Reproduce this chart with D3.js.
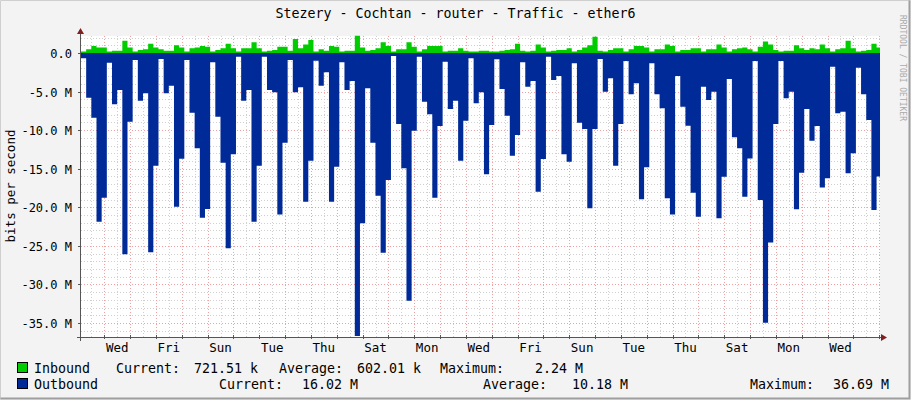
<!DOCTYPE html>
<html><head><meta charset="utf-8">
<script src="https://cdn.jsdelivr.net/npm/d3@7"></script>
<style>body{margin:0;background:#fff}svg text{font-family:"DejaVu Sans Mono",monospace}</style>
</head><body><svg id="c" width="911" height="400"></svg>
<script>
const title = "Stezery - Cochtan - router - Traffic - ether6";
const dayLabels = ["Wed","Fri","Sun","Tue","Thu","Sat","Mon","Wed","Fri","Sun","Tue","Thu","Sat","Mon","Wed"];
const yTicks = [0,-5,-10,-15,-20,-25,-30,-35];
// 5 samples per day (Mbit/s), outbound plotted negative
const outbound = [
0.69,5.79,8.38,21.87,18.76,1.25,6.65,4.80,26.1,8.9,0.91,6.18,5.23,25.84,14.61,0.78,5.23,4.24,19.92,13.7,
0.91,7.74,12.36,21.35,20.22,1.21,8.25,14.22,25.32,13.14,0.48,6.18,4.8,21.87,14.61,0.48,4.8,5.1,20.92,
11.62,0.91,5.1,4.45,19.27,13.96,0.99,4.24,2.51,19.27,14.74,1.21,4.8,3.63,36.69,22.08,4.58,11.62,18.5,25.89,16.46,
0.39,9.2,14.95,32.1,10.07,0.48,6.31,7.95,18.76,9.46,1.12,7.26,6.18,13.96,8.77,0.69,6.53,5.1,15.73,
9.33,0.82,4.67,8.12,13.31,10.63,1.21,4.36,3.63,17.98,13.74,0.48,3.5,2.98,13.14,14.09,1.34,9.03,9.85,20.14,9.85,
0.78,5.01,3.28,14.61,9.2,1.04,5.36,3.93,18.97,14.82,1.34,5.36,7.17,18.84,20.92,2.98,6.96,9.42,18.11,
21.22,4.36,6.09,5.01,21.43,16.03,3.37,10.93,12.36,18.63,13.66,1.04,19.06,34.96,24.55,9.2,1.04,5.88,5.01,20.27,15.51,
7.26,11.37,9.46,17.42,16.25,1.77,7.82,7.61,15.6,13.01,1.9,5.36,8.69,20.35,16.02];
const inbound = [
0.2,0.5,0.9,0.7,0.7,0.2,0.3,0.3,1.6,0.7,0.2,0.4,0.5,1.2,0.7,0.5,0.3,0.3,1.0,0.7,
0.2,0.6,0.7,0.9,0.8,0.2,0.4,0.6,1.2,0.6,0.2,0.6,0.6,1.4,0.6,0.2,0.3,0.4,0.8,
0.8,0.3,1.8,0.6,1.1,1.7,0.2,0.5,0.3,0.9,0.8,0.2,0.3,0.3,2.24,0.7,0.3,0.4,0.6,1.4,0.9,
0.2,0.5,0.5,1.4,0.8,0.2,0.5,0.9,0.9,0.9,0.2,0.3,0.3,0.6,0.3,0.2,0.2,0.3,0.3,
0.2,0.2,0.3,0.4,0.5,1.2,0.3,0.2,0.3,1.1,0.7,0.2,0.3,0.4,0.4,0.6,0.2,0.4,0.7,1.0,2.1,
0.3,0.2,0.4,0.6,0.6,0.2,0.5,0.9,0.9,0.7,0.2,0.5,0.5,1.1,0.9,0.2,0.4,0.4,0.6,
0.6,0.2,0.5,0.5,1.1,0.7,0.2,0.5,0.6,0.7,0.5,0.2,0.8,1.5,1.1,0.4,0.2,0.3,0.3,1.0,0.6,
0.4,0.6,0.5,1.1,0.6,0.2,0.5,0.6,1.6,0.6,0.2,0.3,0.4,1.2,0.72];
const legendNames = ["Inbound","Outbound"];
const legendColors = ["#00CC00","#002A97"];
const legendCur = ["721.51 k","16.02 M"];
const legendAvg = ["602.01 k","10.18 M"];
const legendMax = ["2.24 M","36.69 M"];

const svg = d3.select("#c");
svg.append("rect").attr("width",911).attr("height",400).attr("fill","#F3F3F3");
svg.append("path").attr("d","M0.5,399.5V0.5H910.5").attr("stroke","#CFCFCF").attr("fill","none");
svg.append("path").attr("d","M0.5,398.5H909.5V0.5").attr("stroke","#9E9E9E").attr("stroke-width",2).attr("fill","none");

const L=81, R=880, T=36, B=337;
const stepsPerDay = 5;
const x = d3.scaleLinear().domain([0, (R-L)/25.83*stepsPerDay]).range([L,R]);
const y = d3.scaleLinear().domain([-35,0]).range([323,53]);
svg.append("rect").attr("x",L).attr("y",T).attr("width",R-L).attr("height",B-T).attr("fill","#fff");

const g = svg.append("g");
d3.range(2,-37,-1).forEach(v=>{ const yy=Math.round(y(v))+0.5; if(yy<T||yy>B) return;
  g.append("line").attr("x1",L).attr("x2",R).attr("y1",yy).attr("y2",yy)
   .attr("stroke", v%5===0?"#F0A0A0":"#D0D0D0").attr("stroke-dasharray","1,2");});
const firstDay = 104.3;
for(let k=-1;k<70;k++){ const xx=Math.round(firstDay+k*12.915)+0.5; if(xx<=L||xx>=R) continue;
  g.append("line").attr("x1",xx).attr("x2",xx).attr("y1",T).attr("y2",B)
   .attr("stroke", k%2===0?"#F0A0A0":"#D0D0D0").attr("stroke-dasharray","1,2");}

const inArea = d3.area().curve(d3.curveStepAfter).x((d,i)=>x(i)).y0(y(0)).y1(d=>y(d));
const outArea = d3.area().curve(d3.curveStepAfter).x((d,i)=>x(i)).y0(y(0)).y1(d=>y(-d));
const ext = a => a.concat([a[a.length-1]]);
svg.append("defs").append("clipPath").attr("id","cp").append("rect").attr("x",L).attr("y",T-2).attr("width",R-L).attr("height",B-T+2);
const pg = svg.append("g").attr("clip-path","url(#cp)");
pg.append("path").datum(ext(inbound)).attr("d",inArea).attr("fill","#00CC00");
pg.append("path").datum(ext(outbound)).attr("d",outArea).attr("fill","#002A97");

svg.append("line").attr("x1",L-0.5).attr("x2",L-0.5).attr("y1",32).attr("y2",B+4).attr("stroke","#555");
svg.append("path").attr("d",`M${L-4},34L${L-0.5},28L${L+3},34Z`).attr("fill","#802020");
svg.append("line").attr("x1",L-4).attr("x2",R+2).attr("y1",B+0.5).attr("y2",B+0.5).attr("stroke","#555");
svg.append("path").attr("d",`M${R+1},${B-3}L${R+7},${B+0.5}L${R+1},${B+4}Z`).attr("fill","#802020");
yTicks.forEach(v=>{ const yy=Math.round(y(v))+0.5;
  svg.append("line").attr("x1",L-3).attr("x2",L).attr("y1",yy).attr("y2",yy).attr("stroke","#555");
  svg.append("text").attr("x",72).attr("y",yy+4).attr("text-anchor","end").attr("font-size",12).attr("fill","#000")
   .text(v===0?"0.0":v.toFixed(1)+" M");});
for(let k=-1;k<35;k++){ const xx=Math.round(firstDay+k*25.83)+0.5; if(xx<=L||xx>=R) continue;
  svg.append("line").attr("x1",xx).attr("x2",xx).attr("y1",B-2).attr("y2",B+2).attr("stroke","#555");}
dayLabels.forEach((t,i)=>{ const xx=firstDay+12.9+i*2*25.83;
  svg.append("text").attr("x",xx).attr("y",352).attr("text-anchor","middle").attr("font-size",12.5).text(t);});

svg.append("text").attr("x",455.5).attr("y",18).attr("text-anchor","middle").attr("font-size",13.3).text(title);
svg.append("text").attr("transform","translate(15,186) rotate(-90)").attr("text-anchor","middle").attr("font-size",12.5).text("bits per second");
svg.append("text").attr("transform","translate(900,68) rotate(90)").attr("text-anchor","middle").attr("font-size",8).attr("fill","#AAA").text("RRDTOOL / TOBI OETIKER");

const fs = 13.3;
const rowsX = [
  {cur:[116,258], avg:[279,421], max:[440,583]},
  {cur:[219,358], avg:[483,628], max:[750,889]}];
legendNames.forEach((nm,i)=>{ const yy=373+i*16, p=rowsX[i];
  svg.append("rect").attr("x",17.5).attr("y",yy-10.5).attr("width",10).attr("height",10).attr("fill",legendColors[i]).attr("stroke","#000");
  svg.append("text").attr("x",34).attr("y",yy).attr("font-size",fs).text(nm);
  svg.append("text").attr("x",p.cur[0]).attr("y",yy).attr("font-size",fs).text("Current:");
  svg.append("text").attr("x",p.cur[1]).attr("y",yy).attr("font-size",fs).attr("text-anchor","end").text(legendCur[i]);
  svg.append("text").attr("x",p.avg[0]).attr("y",yy).attr("font-size",fs).text("Average:");
  svg.append("text").attr("x",p.avg[1]).attr("y",yy).attr("font-size",fs).attr("text-anchor","end").text(legendAvg[i]);
  svg.append("text").attr("x",p.max[0]).attr("y",yy).attr("font-size",fs).text("Maximum:");
  svg.append("text").attr("x",p.max[1]).attr("y",yy).attr("font-size",fs).attr("text-anchor","end").text(legendMax[i]);
});
</script></body></html>
